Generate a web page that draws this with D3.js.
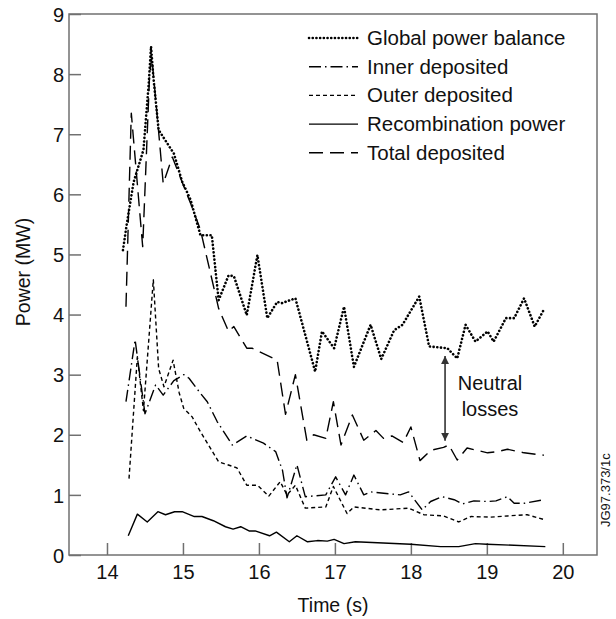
<!DOCTYPE html>
<html>
<head>
<meta charset="utf-8">
<script src="https://cdn.jsdelivr.net/npm/d3@7"></script>
<style>
  body { margin: 0; background: #fff; }
  text { font-family: "Liberation Sans", Arial, sans-serif; fill: #111; }
</style>
</head>
<body>
<div id="chart"></div>
<script>
// series (time in s, power in MW)
const globalT = [14.21, 14.26, 14.35, 14.48, 14.55, 14.58, 14.61, 14.68, 14.88, 14.99, 15.10, 15.23, 15.38, 15.47, 15.60, 15.67, 15.84, 15.98, 16.11, 16.24, 16.30, 16.48, 16.74, 16.83, 16.99, 17.12, 17.25, 17.47, 17.61, 17.78, 17.89, 18.11, 18.24, 18.48, 18.61, 18.72, 18.85, 19.01, 19.09, 19.25, 19.36, 19.49, 19.63, 19.75];
const globalP = [5.07, 5.5, 6.2, 6.74, 7.85, 8.46, 7.96, 7.07, 6.68, 6.21, 5.91, 5.32, 5.32, 4.24, 4.65, 4.64, 3.99, 4.99, 3.94, 4.21, 4.19, 4.27, 3.05, 3.72, 3.44, 4.13, 3.13, 3.83, 3.26, 3.74, 3.83, 4.30, 3.47, 3.44, 3.27, 3.83, 3.55, 3.72, 3.55, 3.94, 3.94, 4.27, 3.80, 4.08];

const innerT = [14.25, 14.37, 14.50, 14.64, 14.74, 14.88, 15.01, 15.08, 15.23, 15.32, 15.45, 15.65, 15.84, 16.06, 16.22, 16.31, 16.37, 16.50, 16.61, 16.88, 17.01, 17.14, 17.25, 17.38, 17.47, 17.86, 17.97, 18.15, 18.26, 18.41, 18.57, 18.68, 18.83, 19.01, 19.12, 19.27, 19.36, 19.49, 19.75];
const innerP = [2.55, 3.58, 2.35, 2.83, 2.66, 2.9, 3.0, 2.94, 2.69, 2.55, 2.22, 1.83, 1.98, 1.86, 1.72, 1.41, 0.95, 1.50, 0.97, 1.0, 1.30, 1.0, 1.33, 1.0, 1.05, 1.0, 1.05, 0.75, 0.89, 0.97, 0.92, 0.85, 0.90, 0.89, 0.90, 0.97, 0.86, 0.86, 0.92];

const outerT = [14.29, 14.40, 14.48, 14.61, 14.68, 14.75, 14.87, 14.95, 15.01, 15.12, 15.23, 15.47, 15.71, 15.84, 15.98, 16.13, 16.28, 16.37, 16.48, 16.61, 16.88, 16.98, 17.16, 17.25, 17.60, 17.97, 18.17, 18.43, 18.63, 18.79, 19.05, 19.27, 19.53, 19.75];
const outerP = [1.27, 3.3, 2.4, 4.58, 3.1, 2.8, 3.24, 2.7, 2.44, 2.30, 2.05, 1.55, 1.45, 1.16, 1.16, 0.98, 1.22, 1.0, 1.16, 0.78, 0.80, 1.14, 0.69, 0.80, 0.75, 0.78, 0.67, 0.65, 0.55, 0.64, 0.63, 0.65, 0.67, 0.59];

const recombT = [14.28, 14.40, 14.53, 14.67, 14.77, 14.89, 14.99, 15.15, 15.25, 15.40, 15.56, 15.66, 15.76, 15.87, 15.95, 16.14, 16.23, 16.40, 16.50, 16.64, 16.77, 16.90, 16.99, 17.12, 17.27, 18.00, 18.39, 18.63, 18.85, 19.00, 19.77];
const recombP = [0.32, 0.68, 0.55, 0.72, 0.67, 0.72, 0.72, 0.64, 0.64, 0.57, 0.47, 0.43, 0.47, 0.40, 0.40, 0.32, 0.38, 0.22, 0.32, 0.22, 0.24, 0.23, 0.26, 0.19, 0.22, 0.18, 0.14, 0.14, 0.19, 0.18, 0.14];

const totalT = [14.25, 14.32, 14.47, 14.56, 14.59, 14.68, 14.74, 14.86, 14.99, 15.10, 15.23, 15.47, 15.60, 15.67, 15.84, 15.91, 16.24, 16.35, 16.48, 16.63, 16.72, 16.88, 16.98, 17.08, 17.23, 17.38, 17.54, 17.64, 17.75, 17.90, 18.00, 18.12, 18.26, 18.43, 18.50, 18.61, 18.74, 19.01, 19.14, 19.27, 19.49, 19.75];
const totalP = [4.13, 7.35, 5.13, 7.96, 8.29, 7.04, 6.18, 6.62, 6.2, 5.85, 5.41, 4.10, 3.72, 3.80, 3.44, 3.44, 3.24, 2.34, 3.00, 1.91, 2.0, 1.94, 2.55, 1.83, 2.33, 1.91, 2.07, 1.94, 1.98, 1.87, 2.13, 1.57, 1.74, 1.79, 1.83, 1.58, 1.78, 1.70, 1.72, 1.76, 1.70, 1.66];

const seriesNames = ["Global power balance", "Inner deposited", "Outer deposited", "Recombination power", "Total deposited"];
const xTicks = [14, 15, 16, 17, 18, 19, 20];
const yTicks = [0, 1, 2, 3, 4, 5, 6, 7, 8, 9];

// neutral losses arrow (time, from, to)
const arrowT = 18.45, arrowTop = 3.31, arrowBottom = 1.9;

const W = 616, H = 619;
const frame = { left: 69, right: 597, top: 14, bottom: 555 };

const svg = d3.select("#chart").append("svg")
	.attr("width", W)
	.attr("height", H);

const x = d3.scaleLinear().domain([13.5, 20.45]).range([frame.left, frame.right]);
const y = d3.scaleLinear().domain([0, 9]).range([frame.bottom, frame.top]);

const axisColor = "#707070";

// axes with inward ticks
const gx = svg.append("g")
	.attr("transform", "translate(0," + frame.bottom + ")")
	.call(d3.axisBottom(x).tickValues(xTicks).tickSize(-12).tickPadding(7).tickFormat(d3.format("d")));
const gy = svg.append("g")
	.attr("transform", "translate(" + frame.left + ",0)")
	.call(d3.axisLeft(y).tickValues(yTicks).tickSize(-12).tickPadding(5).tickFormat(d3.format("d")));

[gx, gy].forEach(function(g) {
	g.select(".domain").remove();
	g.selectAll(".tick line").attr("stroke", axisColor).attr("stroke-width", 1.5);
	g.selectAll(".tick text")
		.style("font-family", "Liberation Sans, Arial, sans-serif")
		.style("font-size", "20px")
		.attr("fill", "#111");
});
gx.selectAll(".tick text").attr("dy", "0.85em");
gy.selectAll(".tick text").attr("dy", "0.36em");

// frame
svg.append("rect")
	.attr("x", frame.left)
	.attr("y", frame.top)
	.attr("width", frame.right - frame.left)
	.attr("height", frame.bottom - frame.top)
	.attr("fill", "none")
	.attr("stroke", axisColor)
	.attr("stroke-width", 1.5);

const styles = [
	{ dash: "0.1 3.6", width: 2.6, cap: "round" },
	{ dash: "12 4 1.5 4", width: 1.4, cap: "butt" },
	{ dash: "4 3", width: 1.4, cap: "butt" },
	{ dash: null, width: 1.4, cap: "butt" },
	{ dash: "14 7", width: 1.4, cap: "butt" }
];

const seriesData = [
	d3.zip(globalT, globalP),
	d3.zip(innerT, innerP),
	d3.zip(outerT, outerP),
	d3.zip(recombT, recombP),
	d3.zip(totalT, totalP)
];

const line = d3.line()
	.x(function(d) { return x(d[0]); })
	.y(function(d) { return y(d[1]); });

// draw total first so the dotted line sits on top
[4, 3, 2, 1, 0].forEach(function(i) {
	svg.append("path")
		.datum(seriesData[i])
		.attr("d", line)
		.attr("fill", "none")
		.attr("stroke", "#000")
		.attr("stroke-width", styles[i].width)
		.attr("stroke-linecap", styles[i].cap)
		.attr("stroke-linejoin", "round")
		.attr("stroke-dasharray", styles[i].dash);
});

// legend
const legend = svg.append("g");
seriesNames.forEach(function(name, i) {
	const ly = 38 + i * 28.7;
	legend.append("line")
		.attr("x1", 309).attr("x2", 358)
		.attr("y1", ly).attr("y2", ly)
		.attr("stroke", "#000")
		.attr("stroke-width", styles[i].width)
		.attr("stroke-linecap", styles[i].cap)
		.attr("stroke-dasharray", styles[i].dash);
	legend.append("text")
		.attr("x", 367)
		.attr("y", ly + 7)
		.style("font-size", "20.5px")
		.text(name);
});

// neutral losses arrow
svg.append("defs").append("marker")
	.attr("id", "head")
	.attr("viewBox", "0 0 10 10")
	.attr("refX", 10).attr("refY", 5)
	.attr("markerWidth", 5).attr("markerHeight", 5)
	.attr("markerUnits", "strokeWidth")
	.attr("orient", "auto-start-reverse")
	.append("path")
	.attr("d", "M0,0 L10,5 L0,10 z")
	.attr("fill", "#333");

svg.append("line")
	.attr("x1", x(arrowT)).attr("x2", x(arrowT))
	.attr("y1", y(arrowTop)).attr("y2", y(arrowBottom))
	.attr("stroke", "#333")
	.attr("stroke-width", 1.6)
	.attr("marker-start", "url(#head)")
	.attr("marker-end", "url(#head)");

svg.append("text")
	.attr("x", 490).attr("y", 390)
	.attr("text-anchor", "middle")
	.style("font-size", "20px")
	.text("Neutral");
svg.append("text")
	.attr("x", 490).attr("y", 416)
	.attr("text-anchor", "middle")
	.style("font-size", "20px")
	.text("losses");

// axis titles
svg.append("text")
	.attr("x", (frame.left + frame.right) / 2)
	.attr("y", 612)
	.attr("text-anchor", "middle")
	.style("font-size", "19.5px")
	.text("Time (s)");
svg.append("text")
	.attr("transform", "translate(30,272) rotate(-90)")
	.attr("text-anchor", "middle")
	.style("font-size", "19.5px")
	.text("Power (MW)");

// figure reference
svg.append("text")
	.attr("transform", "translate(610,527) rotate(-90)")
	.attr("text-anchor", "start")
	.style("font-size", "13px")
	.text("JG97.373/1c");
</script>
</body>
</html>
